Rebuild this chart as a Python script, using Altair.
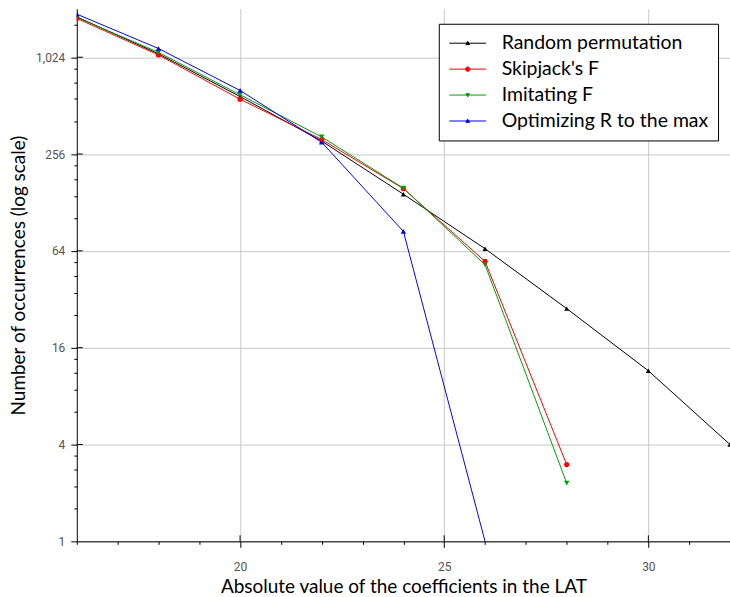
import altair as alt
import pandas as pd

# ---- data ----
series_names = ["Random permutation", "Skipjack's F", "Imitating F", "Optimizing R to the max"]
series_colors = ["#000000", "#ff0000", "#00a000", "#0000ff"]

random_x = [16, 18, 20, 22, 24, 26, 28, 30, 32]
random_y = [1825, 1075, 583, 308, 144, 66, 28, 11.5, 4]

skipjack_x = [16, 18, 20, 22, 24, 26, 28]
skipjack_y = [1785, 1058, 561, 315, 156, 55, 3.0]

imitating_x = [16, 18, 20, 22, 24, 26, 28]
imitating_y = [1810, 1098, 598, 327, 157, 52.5, 2.3]

optim_x = [16, 18, 20, 22, 24, 26]
optim_y = [1897, 1160, 636, 303, 84.5, 1]

y_major = [1, 4, 16, 64, 256, 1024]
x_major = [20, 25, 30]
x_ticks = list(range(16, 33))

# ---- build table ----
rows = []
for name, xs, ys in zip(series_names,
                        [random_x, skipjack_x, imitating_x, optim_x],
                        [random_y, skipjack_y, imitating_y, optim_y]):
    for xv, yv in zip(xs, ys):
        rows.append({"series": name, "x": xv, "y": yv})
df = pd.DataFrame(rows)

y_ticks = []
for b in y_major:
    y_ticks.append(b)
    for f in [1.6, 2.2, 2.8, 3.4]:
        if b * f <= 2048:
            y_ticks.append(round(b * f, 4))
y_ticks = sorted(y_ticks)

W, H = 655, 534
TICK_FONT = "Roboto"
TEXT_FONT = "Lato"

major_y_test = "indexof([1,4,16,64,256,1024], datum.value) >= 0"
major_x_test = "datum.value % 5 === 0"

x_scale = alt.Scale(domain=[16, 32], nice=False, zero=False)
y_scale = alt.Scale(type="log", base=2, domain=[1, 2048], nice=False)

x_axis = alt.Axis(
    values=x_ticks,
    title="Absolute value of the coefficients in the LAT",
    titleFont=TEXT_FONT, titleFontSize=19, titleFontWeight="normal", titleColor="black",
    titleBaseline="alphabetic", titleY=51,
    labelFont=TICK_FONT, labelFontSize=12, labelColor="#555555",
    labelExpr=major_x_test + " ? datum.label : ''",
    labelPadding=14, labelFlush=False, labelOverlap=False,
    tickSize={"condition": {"test": major_x_test, "value": 6}, "value": 3},
    tickColor="black", tickWidth=1,
    domainColor="black", domainWidth=1,
    grid=True, gridColor="#c8c8c8", gridWidth=1,
    gridOpacity={"condition": {"test": major_x_test, "value": 1}, "value": 0},
)

y_axis = alt.Axis(
    values=y_ticks,
    title="Number of occurrences (log scale)",
    titleFont=TEXT_FONT, titleFontSize=19, titleFontWeight="normal", titleColor="black",
    titleBaseline="alphabetic", titleX=-52,
    labelFont=TICK_FONT, labelFontSize=12, labelColor="#555555",
    labelExpr=major_y_test + " ? format(datum.value, ',d') : ''",
    labelPadding=6, labelFlush=False, labelOverlap=False,
    tickSize={"condition": {"test": major_y_test, "value": 6}, "value": 3},
    tickColor="black", tickWidth=1,
    domainColor="black", domainWidth=1,
    grid=True, gridColor="#c8c8c8", gridWidth=1,
    gridOpacity={"condition": {"test": major_y_test, "value": 1}, "value": 0},
)

color_scale = alt.Scale(domain=series_names, range=series_colors)

base = alt.Chart(df)

lines = base.mark_line(strokeWidth=1, clip=True).encode(
    x=alt.X("x:Q", scale=x_scale, axis=x_axis),
    y=alt.Y("y:Q", scale=y_scale, axis=y_axis),
    color=alt.Color("series:N", scale=color_scale, legend=None),
    order=alt.Order("x:Q"),
)

points = base.transform_filter("datum.y > 1").mark_point(
    filled=True, opacity=1, clip=True
).encode(
    x=alt.X("x:Q", scale=x_scale),
    y=alt.Y("y:Q", scale=y_scale),
    color=alt.Color("series:N", scale=color_scale, legend=None),
    shape=alt.Shape("series:N", scale=alt.Scale(
        domain=series_names,
        range=["triangle-up", "circle", "triangle-down", "triangle-up"]), legend=None),
    size=alt.Size("series:N", scale=alt.Scale(domain=series_names, range=[26, 30, 26, 26]), legend=None),
)

legend_paths = [
    "M-1 0H1M0 -0.1L0.1 0.075L-0.1 0.075Z",
    "M-1 0H1M0.12 0A0.12 0.12 0 1 1 -0.12 0A0.12 0.12 0 1 1 0.12 0Z",
    "M-1 0H1M0 0.1L0.1 -0.075L-0.1 -0.075Z",
    "M-1 0H1M0 -0.1L0.1 0.075L-0.1 0.075Z",
]

leg = alt.Legend(
    title=None, orient="none", legendX=363, legendY=15,
    strokeColor="black", fillColor="white", padding=9,
    symbolSize=1369, symbolStrokeWidth=1, symbolOpacity=1,
    symbolOffset=1, labelOffset=15, clipHeight=21, rowPadding=5,
    labelFont=TEXT_FONT, labelFontSize=19.5, labelColor="black", labelLimit=400,
)

carrier = base.mark_point(filled=True, opacity=0, strokeWidth=1).encode(
    x=alt.X("x:Q", scale=x_scale),
    y=alt.Y("y:Q", scale=y_scale),
    fill=alt.Fill("series:N", scale=color_scale, legend=leg),
    stroke=alt.Stroke("series:N", scale=color_scale, legend=leg),
    shape=alt.Shape("series:N", scale=alt.Scale(domain=series_names, range=legend_paths), legend=leg),
)

x_inner = alt.Chart(pd.DataFrame({"xt": x_major})).mark_rule(color="black", strokeWidth=1).encode(
    x=alt.X("xt:Q", scale=x_scale),
    y=alt.value(H - 6), y2=alt.value(H),
)
y_inner = alt.Chart(pd.DataFrame({"yt": y_major[1:]})).mark_rule(color="black", strokeWidth=1).encode(
    y=alt.Y("yt:Q", scale=y_scale),
    x=alt.value(0), x2=alt.value(6),
)

chart = alt.layer(lines, points, carrier, x_inner, y_inner).resolve_scale(
    shape="independent", fill="independent", stroke="independent", size="independent"
).properties(
    width=W, height=H,
    autosize=alt.AutoSizeParams(type="none"),
    padding={"left": 77, "top": 8, "right": 0, "bottom": 55},
    background="white",
).configure_view(stroke=None)

chart.save("out.html", embed_options={"renderer": "svg", "actions": False})
